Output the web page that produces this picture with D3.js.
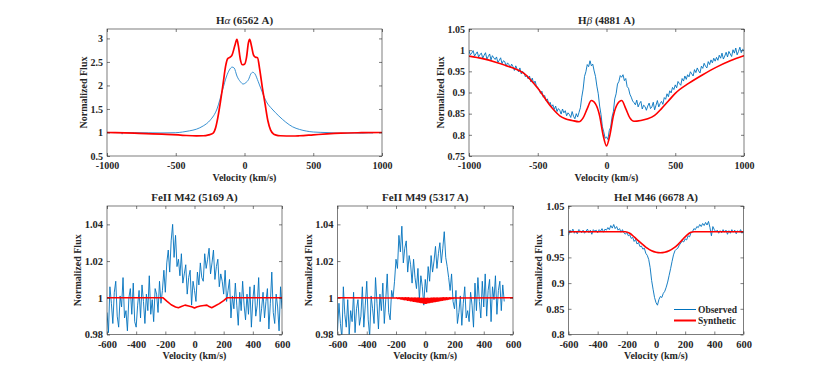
<!DOCTYPE html>
<html>
<head>
<meta charset="utf-8">
<script src="https://cdn.jsdelivr.net/npm/d3@7"></script>
<style>
body { margin: 0; background: #fff; }
text { font-family: "Liberation Serif", "Times New Roman", serif; font-weight: bold; fill: #262626; }
</style>
</head>
<body>
<div id="chart"></div>
<script>
// ---- H-alpha ----
const haObsVel  = [-1000, -950, -895, -890, -885, -800, -700, -600, -500, -450, -400, -350, -300, -250, -200, -160, -130, -110, -90, -75, -55, -30, -10, 10, 30, 45, 60, 75, 100, 130, 160, 200, 250, 300, 350, 400, 450, 500, 600, 650, 700, 800, 850, 900, 935];
const haObsFlux = [1.0, 0.998, 0.998, 0.965, 0.998, 0.995, 0.993, 0.99, 0.995, 1.01, 1.035, 1.07, 1.14, 1.26, 1.5, 1.9, 2.2, 2.33, 2.39, 2.37, 2.2, 2.08, 2.03, 2.06, 2.13, 2.24, 2.28, 2.25, 2.08, 1.85, 1.65, 1.5, 1.35, 1.22, 1.12, 1.065, 1.03, 1.01, 0.998, 0.99, 0.985, 0.99, 0.985, 0.992, 0.99];
const haSynVel  = [-1000, -800, -600, -450, -350, -300, -260, -230, -210, -195, -175, -155, -138, -122, -105, -90, -70, -55, -45, -30, -15, 0, 15, 28, 38, 50, 65, 80, 95, 110, 130, 150, 170, 190, 210, 230, 260, 350, 400, 500, 600, 700, 850, 1000];
const haSynFlux = [1.0, 0.985, 0.965, 0.94, 0.928, 0.93, 0.95, 0.98, 1.1, 1.3, 1.65, 2.05, 2.4, 2.57, 2.6, 2.65, 2.85, 2.98, 2.85, 2.55, 2.44, 2.45, 2.6, 2.9, 2.98, 2.85, 2.65, 2.6, 2.59, 2.35, 1.95, 1.6, 1.25, 1.05, 0.97, 0.945, 0.93, 0.925, 0.93, 0.95, 0.97, 0.985, 0.995, 1.0];

// ---- H-beta ----
const hbVel = d3.range(-1000, 1001, 10);
const hbObsFlux = [
  0.998, 0.989, 0.993, 0.999, 0.986, 0.991, 0.996, 0.984, 0.990, 0.993, // -1000
  0.981, 0.988, 0.994, 0.979, 0.985, 0.991, 0.977, 0.987, 0.982, 0.978, // -900
  0.984, 0.971, 0.976, 0.982, 0.968, 0.975, 0.973, 0.962, 0.970, 0.966, // -800
  0.959, 0.967, 0.961, 0.952, 0.963, 0.955, 0.949, 0.958, 0.944, 0.950, // -700
  0.946, 0.937, 0.941, 0.932, 0.939, 0.925, 0.934, 0.921, 0.927, 0.916, // -600
  0.912, 0.907, 0.898, 0.903, 0.889, 0.893, 0.881, 0.885, 0.873, 0.877, // -500
  0.866, 0.871, 0.860, 0.868, 0.855, 0.862, 0.858, 0.849, 0.861, 0.852, // -400
  0.857, 0.845, 0.852, 0.848, 0.841, 0.855, 0.844, 0.838, 0.850, 0.842, // -300
  0.853, 0.864, 0.889, 0.908, 0.938, 0.949, 0.966, 0.961, 0.975, 0.963, // -200
  0.967, 0.951, 0.938, 0.915, 0.897, 0.868, 0.848, 0.819, 0.807, 0.792, // -100
  0.795, 0.789, 0.810, 0.818, 0.842, 0.855, 0.885, 0.897, 0.920, 0.926, // 0
  0.940, 0.936, 0.942, 0.928, 0.933, 0.914, 0.910, 0.896, 0.889, 0.880, // 100
  0.876, 0.871, 0.882, 0.866, 0.874, 0.879, 0.861, 0.870, 0.867, 0.858, // 200
  0.868, 0.875, 0.862, 0.866, 0.877, 0.859, 0.870, 0.881, 0.866, 0.874, // 300
  0.879, 0.872, 0.888, 0.884, 0.897, 0.890, 0.904, 0.899, 0.912, 0.907, // 400
  0.918, 0.911, 0.926, 0.921, 0.917, 0.933, 0.927, 0.939, 0.931, 0.942, // 500
  0.937, 0.949, 0.944, 0.939, 0.954, 0.947, 0.958, 0.951, 0.946, 0.962, // 600
  0.957, 0.969, 0.962, 0.958, 0.973, 0.966, 0.977, 0.970, 0.981, 0.974, // 700
  0.983, 0.976, 0.988, 0.981, 0.993, 0.979, 0.986, 0.995, 0.984, 0.997, // 800
  0.991, 0.985, 1.001, 0.993, 1.005, 0.989, 0.997, 1.007, 0.994, 1.002, // 900
  0.999
];
const hbSynVel  = [-1000, -900, -800, -700, -600, -500, -400, -340, -300, -250, -200, -170, -140, -110, -80, -50, -25, 0, 25, 50, 80, 110, 140, 170, 200, 250, 300, 350, 400, 450, 500, 600, 700, 800, 900, 1000];
const hbSynFlux = [0.986, 0.980, 0.971, 0.960, 0.945, 0.910, 0.865, 0.845, 0.838, 0.834, 0.831, 0.840, 0.862, 0.881, 0.873, 0.845, 0.800, 0.774, 0.800, 0.845, 0.873, 0.881, 0.862, 0.840, 0.832, 0.834, 0.838, 0.846, 0.862, 0.880, 0.898, 0.922, 0.942, 0.960, 0.975, 0.987];

// ---- FeII M42 ----
const m42Vel = d3.range(-600, 601, 10);
const m42ObsFlux = [
  0.992, 0.981, 1.006, 0.997, 0.986, 1.003, 1.009, 0.990, 0.984, 1.001, // -600
  0.995, 1.011, 0.989, 0.993, 0.982, 1.000, 1.005, 0.991, 1.008, 0.987, // -500
  0.984, 0.996, 1.004, 0.989, 1.007, 0.998, 0.986, 1.002, 0.993, 1.012, // -400
  0.991, 0.999, 0.987, 1.005, 1.002, 0.992, 1.009, 0.997, 1.004, 1.015, // -300
  1.003, 1.019, 1.026, 1.014, 1.031, 1.040, 1.022, 1.034, 1.017, 1.021, // -200
  1.012, 1.024, 1.008, 1.013, 1.018, 1.002, 1.011, 1.015, 0.996, 1.009, // -100
  1.004, 0.998, 1.014, 1.007, 1.019, 1.011, 1.009, 1.024, 1.016, 1.021, // 0
  1.027, 1.013, 1.019, 1.026, 1.010, 1.017, 1.021, 1.006, 1.013, 1.009, // 100
  1.002, 1.015, 0.998, 1.004, 1.010, 0.989, 1.001, 0.994, 1.008, 0.996, // 200
  0.985, 1.003, 0.993, 1.009, 0.996, 0.988, 1.002, 0.991, 1.006, 0.984, // 300
  0.999, 1.007, 0.990, 0.996, 1.011, 0.987, 0.994, 1.003, 0.989, 0.998, // 400
  1.005, 0.983, 0.997, 1.014, 0.992, 0.986, 1.002, 0.995, 0.982, 1.006, // 500
  0.994
];
const m42SynVel  = [-600, -215, -190, -160, -130, -110, -90, -65, -40, -15, 0, 15, 40, 65, 85, 100, 118, 140, 170, 200, 222, 600];
const m42SynFlux = [1.0, 1.0, 0.9982, 0.9962, 0.9950, 0.9946, 0.9952, 0.9960, 0.9955, 0.9950, 0.9944, 0.9950, 0.9955, 0.9958, 0.9960, 0.9952, 0.9946, 0.9955, 0.9968, 0.9985, 1.0, 1.0];

// ---- FeII M49 ----
const m49Vel = d3.range(-600, 541, 10);
const m49ObsFlux = [
  0.982, 0.997, 0.986, 0.978, 1.006, 0.991, 0.984, 0.999, 0.980, 0.993, // -600
  0.987, 1.003, 0.981, 0.994, 0.999, 0.985, 0.990, 1.006, 0.984, 0.996, // -500
  1.009, 0.988, 0.979, 1.001, 0.994, 0.986, 1.011, 0.997, 0.983, 1.002, // -400
  0.993, 1.008, 0.986, 0.999, 1.013, 0.992, 0.988, 1.004, 1.000, 1.009, // -300
  1.021, 1.016, 1.034, 1.025, 1.039, 1.019, 1.027, 1.031, 1.014, 1.023, // -200
  1.018, 1.008, 1.021, 1.011, 1.005, 1.016, 0.999, 1.012, 1.006, 0.996, // -100
  1.010, 1.003, 1.017, 1.009, 1.023, 1.014, 1.020, 1.028, 1.016, 1.024, // 0
  1.030, 1.019, 1.027, 1.036, 1.022, 1.017, 1.011, 1.004, 1.013, 0.998, // 100
  0.994, 1.004, 0.986, 0.992, 1.001, 0.985, 0.997, 1.006, 0.989, 0.993, // 200
  0.987, 1.003, 0.996, 0.984, 1.008, 0.993, 1.011, 0.998, 0.989, 1.009, // 300
  0.995, 1.013, 0.990, 1.004, 1.010, 0.987, 1.006, 0.999, 1.012, 0.991, // 400
  1.004, 1.009, 0.993, 1.007, 0.998                                     // 500
];
const m49SynVel = [-600, ...d3.range(-200, 201, 5), 600];
const m49SynFlux = [
  1.0000,
  0.9999, 1.0000, 0.9997, 1.0000, 0.9996, 1.0000, 0.9994, 1.0000, 0.9993, 1.0000, // -200
  0.9991, 1.0000, 0.9990, 1.0000, 0.9989, 1.0000, 0.9987, 1.0000, 0.9986, 0.9999, // -150
  0.9984, 0.9999, 0.9983, 0.9999, 0.9981, 0.9999, 0.9980, 0.9998, 0.9979, 0.9998, // -100
  0.9977, 0.9998, 0.9976, 0.9997, 0.9974, 0.9997, 0.9973, 0.9997, 0.9971, 0.9997, // -50
  0.9970,                                                                         // 0
  0.9997, 0.9971, 0.9997, 0.9973, 0.9997, 0.9974, 0.9997, 0.9976, 0.9998, 0.9977, // 5
  0.9998, 0.9979, 0.9998, 0.9980, 0.9999, 0.9981, 0.9999, 0.9983, 0.9999, 0.9984, // 55
  0.9999, 0.9986, 1.0000, 0.9987, 1.0000, 0.9989, 1.0000, 0.9990, 1.0000, 0.9991, // 105
  1.0000, 0.9993, 1.0000, 0.9994, 1.0000, 0.9996, 1.0000, 0.9997, 1.0000, 0.9999, // 155
  1.0000
];

// ---- HeI M46 ----
const heVel = d3.range(-600, 601, 10);
const heObsFlux = [
  0.993, 1.003, 0.999, 1.005, 0.997, 1.001, 0.996, 1.004, 1.002, 0.998, // -600
  1.003, 0.997, 1.001, 1.005, 0.998, 1.003, 0.995, 1.004, 1.001, 1.003, // -500
  0.998, 1.004, 1.001, 1.006, 0.999, 1.005, 1.003, 1.008, 1.004, 1.012, // -400
  1.007, 1.014, 1.006, 1.010, 1.003, 1.006, 0.999, 1.004, 0.998, 0.995, // -300
  0.999, 0.992, 0.994, 0.987, 0.989, 0.981, 0.985, 0.976, 0.979, 0.971, // -200
  0.972, 0.966, 0.968, 0.958, 0.954, 0.946, 0.930, 0.905, 0.888, 0.872, // -100
  0.862, 0.857, 0.868, 0.874, 0.872, 0.880, 0.884, 0.892, 0.902, 0.915, // 0
  0.928, 0.942, 0.955, 0.963, 0.966, 0.968, 0.974, 0.978, 0.982, 0.980, // 100
  0.986, 0.984, 0.992, 0.990, 0.998, 1.000, 1.006, 1.004, 1.010, 1.008, // 200
  1.014, 1.010, 1.016, 1.012, 1.018, 1.013, 1.020, 1.008, 0.992, 1.010, // 300
  1.004, 1.000, 1.003, 0.997, 1.002, 0.998, 1.004, 0.999, 1.003, 0.995, // 400
  1.002, 0.997, 1.004, 0.999, 1.003, 0.996, 1.002, 0.999, 1.004, 0.997, // 500
  1.000
];
const heSynVel  = [-600, -210, -180, -150, -120, -90, -60, -30, 0, 30, 60, 90, 120, 150, 180, 210, 240, 260, 600];
const heSynFlux = [1.0, 1.0, 0.997, 0.990, 0.982, 0.975, 0.968, 0.963, 0.960, 0.959, 0.960, 0.963, 0.968, 0.975, 0.984, 0.993, 0.999, 1.0, 1.0];

const xTicksWide = [-1000, -500, 0, 500, 1000];
const xTicksNarrow = [-600, -400, -200, 0, 200, 400, 600];

const blue = "#0072BD";
const red = "#FF0000";

const W = 822, H = 376;
const svg = d3.select("#chart").append("svg").attr("width", W).attr("height", H);

const fmt = d => String(Math.round(d * 1000) / 1000);

function panel(p) {
  const x = d3.scaleLinear().domain(p.xd).range([p.x0, p.x1]);
  const y = d3.scaleLinear().domain(p.yd).range([p.y1, p.y0]);
  const g = svg.append("g");

  svg.append("clipPath").attr("id", "clip" + p.id)
    .append("rect").attr("x", p.x0).attr("y", p.y0)
    .attr("width", p.x1 - p.x0).attr("height", p.y1 - p.y0);

  const plot = g.append("g").attr("clip-path", `url(#clip${p.id})`);
  p.series.forEach(s => {
    const line = d3.line()
      .x((d, i) => x(s.v[i]))
      .y(d => y(d))
      .curve(s.curve || d3.curveLinear);
    plot.append("path").datum(s.f)
      .attr("d", line)
      .attr("fill", "none")
      .attr("stroke", s.color)
      .attr("stroke-width", s.w)
      .attr("stroke-linejoin", "round");
  });

  // axes with inward ticks on all four sides
  const axes = [
    [d3.axisBottom(x).tickValues(p.xt).tickFormat(fmt), `translate(0,${p.y1})`, 6],
    [d3.axisTop(x).tickValues(p.xt).tickFormat(""), `translate(0,${p.y0})`, 0],
    [d3.axisLeft(y).tickValues(p.yt).tickFormat(fmt), `translate(${p.x0},0)`, 4],
    [d3.axisRight(y).tickValues(p.yt).tickFormat(""), `translate(${p.x1},0)`, 0]
  ];
  axes.forEach(([ax, tr, pad]) => {
    const a = g.append("g").attr("transform", tr)
      .call(ax.tickSizeInner(-3).tickSizeOuter(0).tickPadding(pad));
    a.select(".domain").remove();
    a.selectAll("line").attr("stroke", "#262626").attr("stroke-width", 0.6);
    a.selectAll("text").attr("font-size", p.tickFont).attr("fill", "#262626")
      .style("font-family", "'Liberation Serif', serif").style("font-weight", "bold");
  });

  g.append("rect")
    .attr("x", p.x0).attr("y", p.y0)
    .attr("width", p.x1 - p.x0).attr("height", p.y1 - p.y0)
    .attr("fill", "none").attr("stroke", "#262626").attr("stroke-width", 0.6);

  // title
  const t = g.append("text")
    .attr("x", (p.x0 + p.x1) / 2).attr("y", p.titleY)
    .attr("text-anchor", "middle").attr("font-size", 11);
  p.title.forEach(part => {
    const ts = t.append("tspan").text(part.t);
    if (part.it) ts.style("font-style", "italic").style("font-weight", "normal");
  });

  g.append("text")
    .attr("x", (p.x0 + p.x1) / 2).attr("y", p.xlabY)
    .attr("text-anchor", "middle").attr("font-size", 10)
    .text("Velocity (km/s)");

  g.append("text")
    .attr("transform", `translate(${p.ylabX},${(p.y0 + p.y1) / 2}) rotate(-90)`)
    .attr("dy", "0.35em")
    .attr("text-anchor", "middle").attr("font-size", 10)
    .text("Normalized Flux");

  return { x, y, g };
}

const topRow = { y0: 29, y1: 156, titleY: 24, xlabY: 181, tickFont: 10 };
const botRow = { y0: 206, y1: 334.5, titleY: 200.5, xlabY: 359, tickFont: 10.5 };

panel(Object.assign({
  id: "ha", x0: 107, x1: 382, xd: [-1000, 1000], yd: [0.5, 3.2],
  xt: xTicksWide, yt: [0.5, 1, 1.5, 2, 2.5, 3], ylabX: 83,
  title: [{ t: "H" }, { t: "α", it: true }, { t: " (6562 A)" }],
  series: [
    { v: haObsVel, f: haObsFlux, color: "#2384cc", w: 0.9, curve: d3.curveMonotoneX },
    { v: haSynVel, f: haSynFlux, color: red, w: 1.7, curve: d3.curveMonotoneX }
  ]
}, topRow));

panel(Object.assign({
  id: "hb", x0: 469, x1: 744, xd: [-1000, 1000], yd: [0.75, 1.05],
  xt: xTicksWide, yt: [0.75, 0.8, 0.85, 0.9, 0.95, 1, 1.05], ylabX: 440,
  title: [{ t: "H" }, { t: "β", it: true }, { t: " (4881 A)" }],
  series: [
    { v: hbVel, f: hbObsFlux, color: blue, w: 0.9 },
    { v: hbSynVel, f: hbSynFlux, color: red, w: 1.6, curve: d3.curveMonotoneX }
  ]
}, topRow));

panel(Object.assign({
  id: "m42", x0: 107, x1: 282, xd: [-600, 600], yd: [0.98, 1.05],
  xt: xTicksNarrow, yt: [0.98, 1, 1.02, 1.04], ylabX: 77,
  title: [{ t: "FeII M42 (5169 A)" }],
  series: [
    { v: m42Vel, f: m42ObsFlux, color: blue, w: 0.9 },
    { v: m42SynVel, f: m42SynFlux, color: red, w: 1.6 }
  ]
}, botRow));

panel(Object.assign({
  id: "m49", x0: 337.5, x1: 513, xd: [-600, 600], yd: [0.98, 1.05],
  xt: xTicksNarrow, yt: [0.98, 1, 1.02, 1.04], ylabX: 308,
  title: [{ t: "FeII M49 (5317 A)" }],
  series: [
    { v: m49Vel, f: m49ObsFlux, color: blue, w: 0.9 },
    { v: m49SynVel, f: m49SynFlux, color: red, w: 1.6 }
  ]
}, botRow));

panel(Object.assign({
  id: "he", x0: 568.5, x1: 743.5, xd: [-600, 600], yd: [0.8, 1.05],
  xt: xTicksNarrow, yt: [0.8, 0.85, 0.9, 0.95, 1, 1.05], ylabX: 538,
  title: [{ t: "HeI M46 (6678 A)" }],
  series: [
    { v: heVel, f: heObsFlux, color: blue, w: 0.9 },
    { v: heSynVel, f: heSynFlux, color: red, w: 1.6, curve: d3.curveMonotoneX }
  ]
}, botRow));

// legend (no box)
const legendItems = [
  { label: "Observed", color: blue, w: 1, y: 309.5 },
  { label: "Synthetic", color: red, w: 2, y: 320.5 }
];
const leg = svg.append("g");
legendItems.forEach(d => {
  leg.append("line").attr("x1", 674).attr("x2", 696).attr("y1", d.y).attr("y2", d.y)
    .attr("stroke", d.color).attr("stroke-width", d.w);
  leg.append("text").attr("x", 698).attr("y", d.y).attr("dy", "0.35em")
    .attr("font-size", 9.5).text(d.label);
});
</script>
</body>
</html>
